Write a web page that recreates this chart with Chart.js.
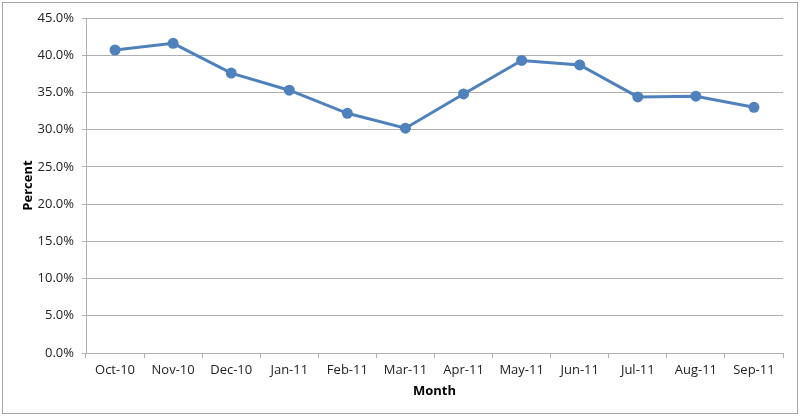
<!DOCTYPE html>
<html>
<head>
<meta charset="utf-8">
<script src="https://cdn.jsdelivr.net/npm/chart.js@4/dist/chart.umd.min.js"></script>
<style>
  html, body { margin: 0; padding: 0; background: #fff; }
  #wrap { position: relative; width: 800px; height: 416px; }
  #frame { position: absolute; left: 2px; top: 2px; width: 794px; height: 410px; border: 1px solid #a6a6a6; pointer-events: none; }
  canvas { position: absolute; left: 0; top: 0; }
</style>
</head>
<body>
<div id="wrap">
  <canvas id="chart" width="800" height="416"></canvas>
  <div id="frame"></div>
</div>
<script>
const months = ['Oct-10', 'Nov-10', 'Dec-10', 'Jan-11', 'Feb-11', 'Mar-11', 'Apr-11', 'May-11', 'Jun-11', 'Jul-11', 'Aug-11', 'Sep-11'];
const percentValues = [40.7, 41.6, 37.6, 35.3, 32.2, 30.2, 34.8, 39.3, 38.7, 34.4, 34.5, 33.0];
const yTicks = [0, 5, 10, 15, 20, 25, 30, 35, 40, 45];

const font = { family: "'Open Sans', 'Liberation Sans', sans-serif", size: 13 };
const gridColor = '#b0b0b0';

new Chart(document.getElementById('chart'), {
  type: 'line',
  data: {
    labels: months,
    datasets: [{
      label: 'Percent',
      data: percentValues,
      borderColor: '#4F81BD',
      backgroundColor: '#4F81BD',
      borderWidth: 3,
      pointRadius: 5.5,
      pointBackgroundColor: '#4F81BD',
      pointBorderWidth: 0,
      tension: 0
    }]
  },
  options: {
    responsive: false,
    animation: false,
    layout: { padding: { left: 0, right: 17, top: 18, bottom: 0 } },
    plugins: { legend: { display: false }, tooltip: { enabled: false } },
    scales: {
      x: {
        offset: true,
        grid: { offset: true, drawOnChartArea: false, drawTicks: true, tickLength: 5, color: gridColor },
        border: { display: true, color: gridColor, width: 1 },
        ticks: { color: '#222', font: font, padding: 4, maxRotation: 0, autoSkip: false },
        title: { display: true, text: 'Month', color: '#000', font: { ...font, weight: 'bold' }, padding: { top: 0, bottom: 17 } },
        afterFit: (scale) => { scale.height = 63; }
      },
      y: {
        min: 0,
        max: 45,
        afterBuildTicks: (scale) => { scale.ticks = yTicks.map(v => ({ value: v })); },
        grid: { color: gridColor, drawTicks: true, tickLength: 4 },
        border: { display: true, color: gridColor, width: 1 },
        ticks: { color: '#222', font: font, padding: 8, callback: v => v.toFixed(1) + '%' },
        title: { display: true, text: 'Percent', color: '#000', font: { ...font, weight: 'bold' }, padding: { top: 20, bottom: 0 } },
        afterFit: (scale) => { scale.width = 86; }
      }
    }
  }
});
</script>
</body>
</html>
